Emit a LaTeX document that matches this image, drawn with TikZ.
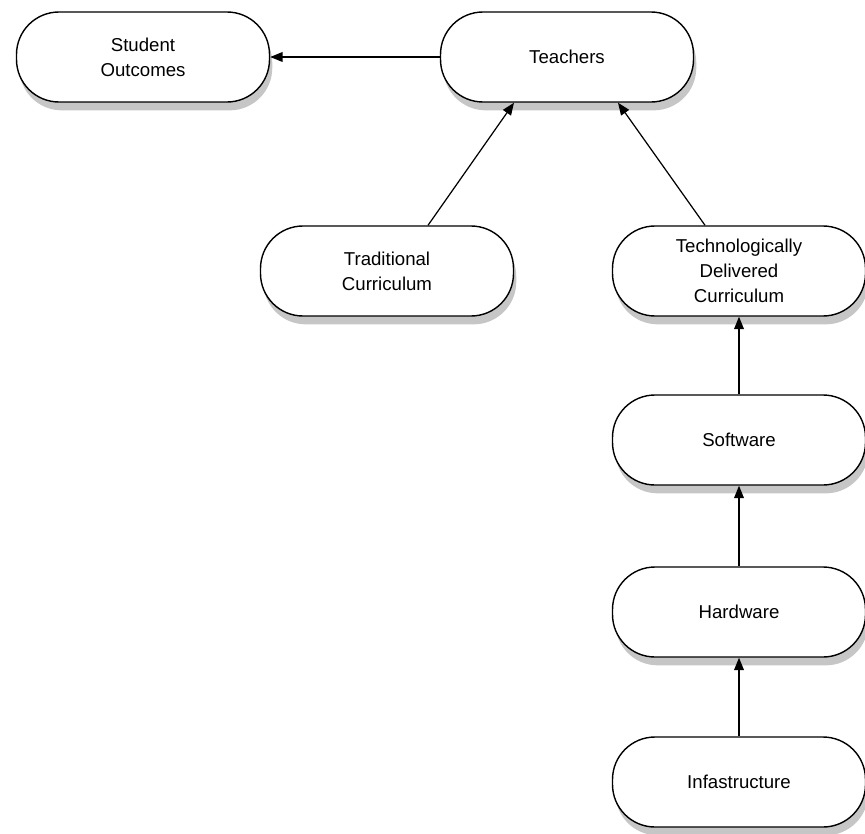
\documentclass[tikz,border=0pt]{standalone}
\usepackage{fontspec}
\setmainfont{Liberation Sans}
\usepackage{tikz}
\usetikzlibrary{shadows}
\usetikzlibrary{arrows.meta}
\usetikzlibrary{positioning}

\begin{document}
\begin{tikzpicture}[
% define styles here
stage/.style={rectangle, draw, line width=0.8pt, fill=white, rounded corners=0.85cm,
  minimum width=5.06cm, minimum height=1.8cm, align=center,
  font=\fontsize{10.6}{14.3}\selectfont,
  drop shadow={shadow xshift=0.3ex, shadow yshift=-0.9ex, opacity=0.45}},
feeds/.style={-{Triangle[length=7pt,width=5.5pt]}, line width=0.7pt}
]
\useasboundingbox (0,0) rectangle (17.3,-16.66);

\node[stage] (outcomes) at (2.86, -1.14) {Student\\Outcomes};
\node[stage] (teachers) at (11.34, -1.14) {Teachers};
\node[stage] (trad) at (7.74, -5.42) {Traditional\\Curriculum};
\node[stage] (tech) at (14.78, -5.42) {Technologically\\Delivered\\Curriculum};
\node[stage] (soft) at (14.78, -8.80) {Software};
\node[stage] (hard) at (14.78, -12.24) {Hardware};
\node[stage] (infra) at (14.78, -15.64) {Infastructure};

\draw[feeds] (teachers.west) -- (outcomes.east);
\draw[feeds] ([xshift=0.82cm]trad.north) -- ([xshift=-1.06cm]teachers.south);
\draw[feeds] ([xshift=-0.68cm]tech.north) -- ([xshift=1.02cm]teachers.south);
\draw[feeds] (soft.north) -- (tech.south);
\draw[feeds] (hard.north) -- (soft.south);
\draw[feeds] (infra.north) -- (hard.south);
\end{tikzpicture}
\end{document}
